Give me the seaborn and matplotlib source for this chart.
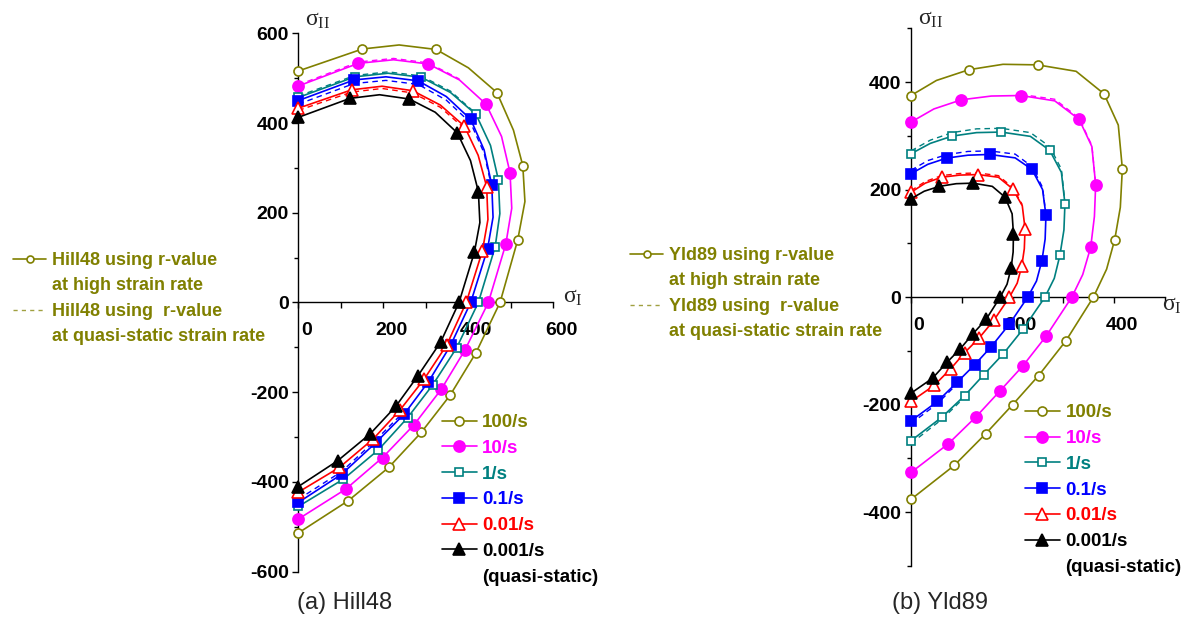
import numpy as np
import pandas as pd
import matplotlib
matplotlib.use("Agg")
import matplotlib.pyplot as plt
import matplotlib.transforms as mtransforms
from matplotlib.lines import Line2D
from matplotlib.ticker import MultipleLocator
import seaborn as sns

# ---- data (sigma_I, sigma_II) ----
rate_labels = ["100/s", "10/s", "1/s", "0.1/s", "0.01/s", "0.001/s"]

# (a) Hill48 yield loci, solid lines (r-value at high strain rate)
hill_100 = [(0, 516), (150.6, 565), (237, 574), (324, 564), (400, 523), (467, 468), (506, 384),
            (528, 305), (533, 225), (516, 139), (474.5, 0), (418, -112), (357, -207), (289, -290),
            (212.5, -368), (117.6, -442), (0, -514)]
hill_10 = [(0, 482.5), (141, 533), (224, 541), (306, 531.6), (379, 496), (441.6, 442), (478, 370),
           (498, 289), (502, 210), (488, 130), (447, 0), (392, -106), (336, -194), (272, -273),
           (198, -346), (112, -416), (0, -483)]
hill_1 = [(0, 457), (133, 503), (211, 511), (289, 502), (358, 468), (418, 419), (452, 350),
          (470.6, 273), (474, 198), (463, 124), (423.5, 0), (372.5, -101), (316, -184), (257, -257),
          (188, -329), (106, -394), (0, -455)]
hill_01 = [(0, 450), (131, 496), (206, 503), (282, 494), (348, 459), (405.5, 408), (437, 340),
           (455, 262), (458, 190), (445, 119), (405.5, 0), (358, -96), (306, -177), (249, -249),
           (183, -312), (102, -383), (0, -446)]
hill_001a = [(0, 433), (125.5, 474), (197, 482), (269, 472), (334, 440), (390.6, 393), (423, 328),
             (443, 258), (446, 185), (433, 115), (395, 0), (349, -95), (296, -171), (239, -240),
             (176.5, -304), (96.5, -368), (0, -423)]
hill_0001 = [(0, 412.6), (121.6, 455), (191, 463), (261, 453.5), (322, 424), (374, 378), (405, 316),
             (423.5, 247), (427, 178), (414, 111.5), (378, 0), (335, -88), (281, -164), (229, -232),
             (169, -293), (92.5, -353), (0, -410.5)]
hill_marks = [0, 1, 3, 5, 7, 9, 10, 11, 12, 13, 14, 15, 16]

# (a) dashed lines (r-value at quasi-static strain rate), where they separate from solid
hill_dash_10 = [(0, 485), (141, 536), (224, 544), (306, 534), (379, 498)]
hill_dash_1 = [(0, 460), (133, 506), (211, 514), (289, 505), (358, 471), (418, 421)]
hill_dash_01 = [(0, 442), (131, 488), (206, 495), (282, 486), (348, 451), (405.5, 400), (437, 333), (455, 256)]
hill_dash_01_low = [(0, -439), (102, -377), (183, -306), (249, -243)]
hill_dash_001 = [(0, 428), (125.5, 469), (197, 477), (269, 467), (334, 435), (390.6, 388)]

# (b) Yld89 yield loci, solid lines
yld_100 = [(0, 375), (50, 403), (114, 423), (181, 433), (249, 432), (325, 420), (380, 378), (408, 320),
           (416, 239), (412, 167), (401, 107), (385, 52), (359, 0), (305, -81), (251, -146),
           (200, -200), (147, -254), (85, -313), (0, -376)]
yld_10 = [(0, 325.6), (45, 350), (99, 367), (158, 374), (216.6, 375), (283, 365), (331, 330.5), (356, 280),
          (363.5, 209), (361, 150), (353.7, 93), (338, 42), (316.5, 0), (265.6, -73), (220, -128),
          (175.5, -174), (128.5, -222), (73, -273), (0, -326)]
yld_1 = [(0, 266.7), (38, 286), (81, 299.5), (129, 306), (177.5, 307), (235, 299), (273, 273), (296, 232),
         (303, 173.6), (301, 125), (293, 77.5), (282, 35), (263.6, 0), (221, -59), (182, -105),
         (143, -144.5), (105.7, -183), (61, -223), (0, -267)]
yld_01 = [(0, 229.5), (33, 247), (70, 258.6), (112, 264), (154.6, 265.4), (205, 259), (238, 237.5), (259, 200),
          (265.6, 152), (264, 108), (257.7, 68), (247, 30), (229.7, 0), (193.8, -50), (158, -92),
          (125, -126), (91, -158), (52, -194), (0, -230)]
yld_001a = [(0, 195), (28, 212), (60, 223), (96, 227), (131.8, 228), (172, 223), (200, 201.5), (219, 170),
            (224.5, 127), (223, 90), (218, 57.7), (209, 26), (193.8, 0), (163, -43), (134, -76),
            (105.7, -103), (78.3, -133), (45.7, -164), (0, -194)]
yld_0001 = [(0, 183), (26, 197), (55.5, 206), (89, 211), (122, 212), (160, 206), (185, 186), (199, 155),
            (201.6, 118), (201, 84), (197, 54), (189, 24), (175.5, 0), (148, -41), (122, -68),
            (97, -96), (71, -121), (42.4, -150.7), (0, -178.6)]
yld_marks = [0, 2, 4, 6, 8, 10, 12, 13, 14, 15, 16, 17, 18]

yld_dash_10 = [(216.6, 377), (283, 368), (331, 333), (356, 282), (363.5, 210)]
yld_dash_1 = [(0, 272), (38, 292), (81, 306), (129, 313), (177.5, 314), (235, 306), (273, 280), (296, 238), (303, 176)]
yld_dash_1_low = [(0, -272), (61, -227), (105.7, -186)]
yld_dash_01 = [(0, 236), (33, 254), (70, 265), (112, 271), (154.6, 272), (205, 266), (238, 243), (259, 204), (265.6, 153)]
yld_dash_01_low = [(0, -235), (52, -198), (91, -161)]
yld_dash_001 = [(0, 198), (28, 215), (60, 226), (96, 230), (131.8, 231), (172, 226), (200, 204), (219, 172)]

hill_xticks = [0, 200, 400, 600]
hill_yticks = [-600, -400, -200, 0, 200, 400, 600]
yld_xticks = [0, 200, 400]
yld_yticks = [-400, -200, 0, 200, 400]

# ---- styling ----
OLIVE = "#808000"
colors = [OLIVE, "#ff00ff", "#008080", "#0000ff", "#ff0000", "#000000"]
markers = ["o", "o", "s", "s", "^", "^"]
faces = ["white", "#ff00ff", "white", "#0000ff", "white", "#000000"]
msizes = [6.5, 8, 6, 6.5, 8, 8]

sns.set_theme(style="white")
plt.rcParams["font.family"] = ["Liberation Sans", "DejaVu Sans"]
plt.rcParams["mathtext.fontset"] = "custom"
plt.rcParams["mathtext.rm"] = "Liberation Serif"
plt.rcParams["mathtext.it"] = "Liberation Serif"

fig = plt.figure(figsize=(11.83, 6.19), dpi=100)
ax_a = fig.add_axes([0.2522, 0.0767, 0.2156, 0.8695])
ax_b = fig.add_axes([0.7701, 0.0856, 0.2147, 0.8687])


def draw_curve(ax, pts, marks, i):
    df = pd.DataFrame(pts, columns=["s1", "s2"])
    sns.lineplot(data=df, x="s1", y="s2", ax=ax, sort=False, estimator=None,
                 color=colors[i], lw=1.2, marker=markers[i], markevery=marks,
                 ms=msizes[i], mfc=faces[i], mec=colors[i], mew=1.2, clip_on=False, zorder=3)


def draw_dash(ax, pts, i):
    df = pd.DataFrame(pts, columns=["s1", "s2"])
    sns.lineplot(data=df, x="s1", y="s2", ax=ax, sort=False, estimator=None,
                 color=colors[i], lw=1.0, ls=(0, (4, 3)), clip_on=False, zorder=2)


def setup_axes(ax, xmax, ymax, xticks, yticks):
    ax.set_xlim(0, xmax)
    ax.set_ylim(-ymax, ymax)
    ax.spines["bottom"].set_position(("data", 0))
    ax.spines["top"].set_visible(False)
    ax.spines["right"].set_visible(False)
    for s in ["left", "bottom"]:
        ax.spines[s].set_color("black")
        ax.spines[s].set_linewidth(1.0)
    ax.set_xticks(xticks)
    ax.set_xticklabels([str(t) for t in xticks], fontweight="bold", fontsize=14)
    ax.set_yticks(yticks)
    ax.set_yticklabels([str(t) for t in yticks], fontweight="bold", fontsize=14)
    ax.xaxis.set_minor_locator(MultipleLocator(100))
    ax.yaxis.set_minor_locator(MultipleLocator(100))
    ax.tick_params(axis="x", which="both", direction="out", bottom=True, length=4, width=1,
                   color="black", pad=10, labelcolor="black")
    ax.tick_params(axis="y", which="major", direction="out", left=True, length=4, width=1,
                   color="black", pad=3, labelcolor="black")
    ax.tick_params(axis="y", which="minor", direction="out", left=True, length=3, width=1, color="black")
    ax.set_xlabel("")
    ax.set_ylabel("")
    ax.set_facecolor("white")
    shift = mtransforms.ScaledTranslation(8 / 100, 0, fig.dpi_scale_trans)
    for lab in ax.get_xticklabels():
        lab.set_transform(lab.get_transform() + shift)


def rate_legend(anchor):
    handles = [Line2D([], [], color=c, lw=1.2, marker=m, mfc=f, mec=c, ms=s, mew=1.2)
               for c, m, f, s in zip(colors, markers, faces, msizes)]
    handles.append(Line2D([], [], ls="none"))
    leg = fig.legend(handles, rate_labels + ["(quasi-static)"], loc="upper left",
                     bbox_to_anchor=anchor, frameon=False, prop=dict(weight="bold", size=13.5),
                     handlelength=1.85, handletextpad=0.3, labelspacing=0.46,
                     borderpad=0, borderaxespad=0)
    for t, c in zip(leg.get_texts(), colors + ["black"]):
        t.set_color(c)


def model_legend(name, anchor):
    handles = [Line2D([], [], color=OLIVE, lw=1.2, marker="o", mfc="white", mec=OLIVE, ms=5, mew=1.2),
               Line2D([], [], ls="none"),
               Line2D([], [], color=OLIVE, lw=1.0, ls=(0, (3, 3)), alpha=0.75),
               Line2D([], [], ls="none")]
    labels = [f"{name} using r-value", "at high strain rate",
              f"{name} using  r-value", "at quasi-static strain rate"]
    leg = fig.legend(handles, labels, loc="upper left", bbox_to_anchor=anchor, frameon=False,
                     prop=dict(weight="bold", size=13), handlelength=1.85, handletextpad=0.3,
                     labelspacing=0.47, borderpad=0, borderaxespad=0)
    for t in leg.get_texts():
        t.set_color(OLIVE)


# panel (a)
for pts, i in [(hill_dash_10, 1), (hill_dash_1, 2), (hill_dash_01, 3), (hill_dash_01_low, 3), (hill_dash_001, 4)]:
    draw_dash(ax_a, pts, i)
for i, pts in enumerate([hill_100, hill_10, hill_1, hill_01, hill_001a, hill_0001]):
    draw_curve(ax_a, pts, hill_marks, i)
setup_axes(ax_a, 600, 600, hill_xticks, hill_yticks)

# panel (b)
for pts, i in [(yld_dash_10, 1), (yld_dash_1, 2), (yld_dash_1_low, 2), (yld_dash_01, 3),
               (yld_dash_01_low, 3), (yld_dash_001, 4)]:
    draw_dash(ax_b, pts, i)
for i, pts in enumerate([yld_100, yld_10, yld_1, yld_01, yld_001a, yld_0001]):
    draw_curve(ax_b, pts, yld_marks, i)
setup_axes(ax_b, 500, 500, yld_xticks, yld_yticks)

# axis labels
ax_a.text(0.025, 1.025, r"$\mathrm{σ}_{\mathrm{II}}$", transform=ax_a.transAxes, fontsize=17, va="center", ha="left")
ax_a.text(1.037, 0.51, r"$\mathrm{σ}_{\mathrm{I}}$", transform=ax_a.transAxes, fontsize=17, va="center", ha="left")
ax_b.text(0.028, 1.017, r"$\mathrm{σ}_{\mathrm{II}}$", transform=ax_b.transAxes, fontsize=17, va="center", ha="left")
ax_b.text(0.988, 0.485, r"$\mathrm{σ}_{\mathrm{I}}$", transform=ax_b.transAxes, fontsize=17, va="center", ha="left")

# legends
model_legend("Hill48", (0.011, 0.593))
model_legend("Yld89", (0.5325, 0.601))
rate_legend((0.3736, 0.331))
rate_legend((0.8665, 0.347))

# captions
fig.text(0.2916, 0.026, "(a) Hill48", ha="center", va="center", fontsize=17)
fig.text(0.7946, 0.026, "(b) Yld89", ha="center", va="center", fontsize=17)

fig.savefig("out.png", dpi=100, facecolor="white")
